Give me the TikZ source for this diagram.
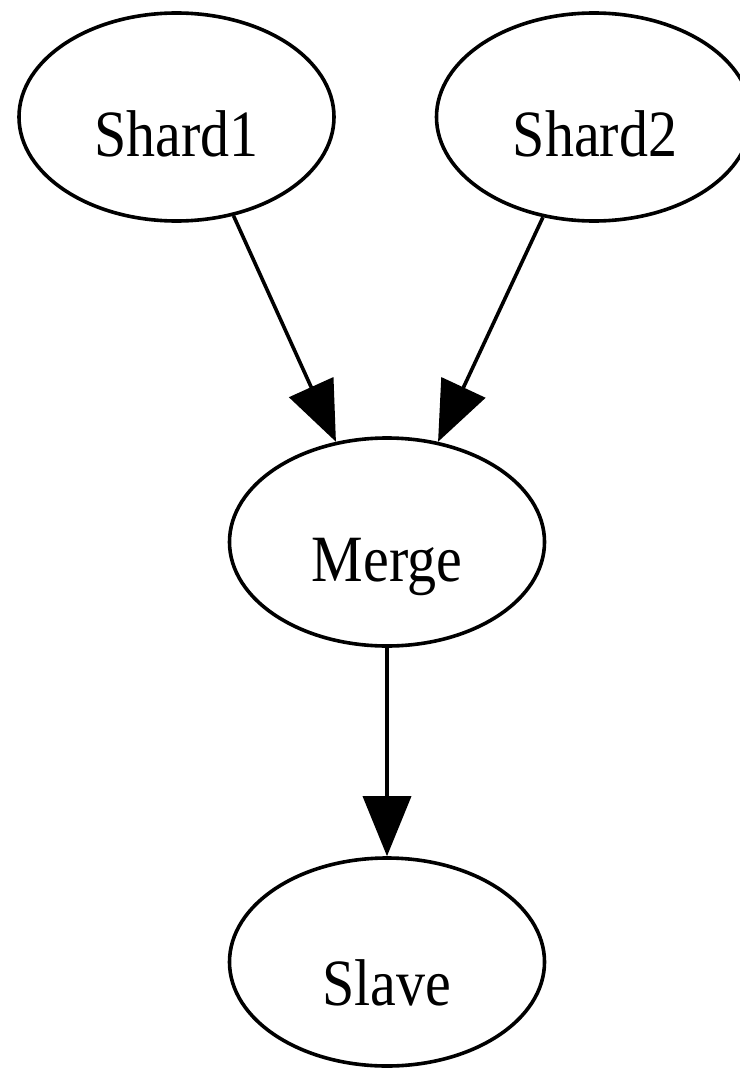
\documentclass[tikz,border=0pt]{standalone}
\usepackage{fontspec}
\setmainfont{Liberation Serif}
\usetikzlibrary{arrows.meta,shapes.geometric}
\begin{document}
\begin{tikzpicture}[x=1pt,y=-1pt,
  ell/.style={draw, line width=3.6pt, ellipse, minimum width=315pt, minimum height=208pt, inner sep=0pt},
  lbl/.style={anchor=base, inner sep=0pt, font=\fontsize{58}{60}\selectfont},
  edgeline/.style={line width=3.6pt, -{Triangle[length=60pt,width=48pt]}}]
\useasboundingbox (0,0) rectangle (739,1070);
\fill[white] (0,0) rectangle (739,1070);
\node[ell] (s1) at (176.5,117) {};
\node[ell] (s2) at (594,117) {};
\node[ell] (m) at (387,542) {};
\node[ell] (sl) at (387,962) {};
\node[lbl] (t1) at (176.5,157) {\scalebox{1}[1.14]{Shard1}};
\node[lbl] (t2) at (595,157) {\scalebox{1}[1.14]{Shard2}};
\node[lbl] (t3) at (387,581) {\scalebox{1}[1.14]{Merge}};
\node[lbl] (t4) at (387,1005) {\scalebox{1}[1.14]{Slave}};
\draw[edgeline] (s1.-60.4) -- (m.117);
\draw[edgeline] (s2.-117.2) -- (m.63.9);
\draw[edgeline] (m.south) -- (sl.north);
\end{tikzpicture}
\end{document}
